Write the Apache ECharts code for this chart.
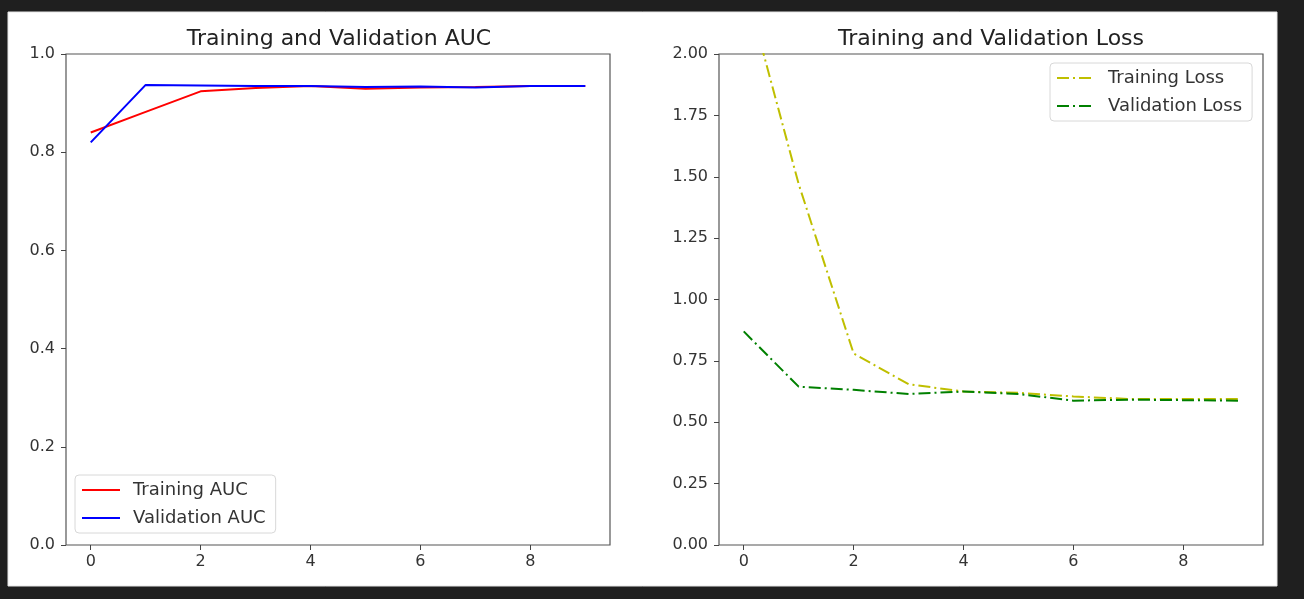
<!DOCTYPE html>
<html lang="en">
<head>
    <meta charset="UTF-8">
    <title>Training and Validation</title>
    <script src="https://cdn.jsdelivr.net/npm/echarts@6/dist/echarts.min.js"></script>
    <style>
        html, body { margin: 0; padding: 0; background: #1f1f1f; }
    </style>
</head>
<body>
<div id="main" style="width: 1304px;height:599px;"></div>

<script type="text/javascript">
    // data
    var epochs = [0, 1, 2, 3, 4, 5, 6, 7, 8, 9];
    var xTicks = [0, 2, 4, 6, 8];
    var trainAuc = [0.840, 0.882, 0.924, 0.931, 0.935, 0.929, 0.932, 0.933, 0.935, 0.935];
    var valAuc = [0.820, 0.937, 0.936, 0.935, 0.935, 0.933, 0.934, 0.932, 0.935, 0.935];
    var trainLoss = [2.30, 1.47, 0.78, 0.655, 0.625, 0.620, 0.605, 0.595, 0.595, 0.595];
    var valLoss = [0.870, 0.645, 0.632, 0.615, 0.625, 0.615, 0.588, 0.592, 0.590, 0.588];

    function pairs(ys) {
        return epochs.map(function (x, i) { return [x, ys[i]]; });
    }

    var font = 'DejaVu Sans';
    var dashDot = [12, 4, 2, 4];

    function xAxis(gi) {
        return {
            type: 'value', gridIndex: gi, min: -0.45, max: 9.45,
            splitLine: {show: false},
            axisLine: {show: false, onZero: false},
            axisTick: {show: true, length: 5, customValues: xTicks, lineStyle: {color: '#444'}},
            axisLabel: {customValues: xTicks, margin: 9, color: '#333', fontFamily: font, fontSize: 16}
        };
    }

    function yAxis(gi, max, step, digits) {
        return {
            type: 'value', gridIndex: gi, min: 0, max: max, interval: step,
            splitLine: {show: false},
            axisLine: {show: false, onZero: false},
            axisTick: {show: true, length: 5, lineStyle: {color: '#444'}},
            axisLabel: {
                margin: 11, color: '#333', fontFamily: font, fontSize: 16,
                formatter: function (v) { return v.toFixed(digits); }
            }
        };
    }

    var legendBox = {
        orient: 'vertical', itemWidth: 38, itemHeight: 14, itemGap: 10,
        padding: [6, 10, 6, 6], borderColor: '#d8d8d8', borderWidth: 1, borderRadius: 4,
        backgroundColor: 'rgba(255,255,255,0.8)',
        itemStyle: {opacity: 0},
        textStyle: {fontFamily: font, fontSize: 18, color: '#333', padding: [0, 0, 0, 8]}
    };

    var myChart = echarts.init(document.getElementById('main'));

    var option = {
        animation: false,
        backgroundColor: '#1f1f1f',
        graphic: [{
            type: 'rect', z: -10,
            shape: {x: 8, y: 12, width: 1269, height: 574},
            style: {fill: '#ffffff', stroke: '#e6e6e6', lineWidth: 1}
        }],
        title: [
            {text: 'Training and Validation AUC', left: 334, top: 23, textAlign: 'center',
                textStyle: {fontFamily: font, fontSize: 22, fontWeight: 'normal', color: '#222'}},
            {text: 'Training and Validation Loss', left: 986, top: 23, textAlign: 'center',
                textStyle: {fontFamily: font, fontSize: 22, fontWeight: 'normal', color: '#222'}}
        ],
        legend: [
            Object.assign({left: 75, top: 475, data: ['Training AUC', 'Validation AUC']}, legendBox),
            Object.assign({left: 1050, top: 63, data: ['Training Loss', 'Validation Loss']}, legendBox)
        ],
        grid: [
            {left: 66, top: 54, width: 544, height: 491, show: true, borderColor: '#555', borderWidth: 1.2},
            {left: 719, top: 54, width: 544, height: 491, show: true, borderColor: '#555', borderWidth: 1.2}
        ],
        xAxis: [xAxis(0), xAxis(1)],
        yAxis: [yAxis(0, 1, 0.2, 1), yAxis(1, 2, 0.25, 2)],
        series: [
            {name: 'Training AUC', type: 'line', xAxisIndex: 0, yAxisIndex: 0, symbol: 'none',
                color: '#ff0000', lineStyle: {width: 2}, data: pairs(trainAuc)},
            {name: 'Validation AUC', type: 'line', xAxisIndex: 0, yAxisIndex: 0, symbol: 'none',
                color: '#0000ff', lineStyle: {width: 2}, data: pairs(valAuc)},
            {name: 'Training Loss', type: 'line', xAxisIndex: 1, yAxisIndex: 1, symbol: 'none',
                color: '#bfbf00', lineStyle: {width: 2, type: dashDot}, data: pairs(trainLoss)},
            {name: 'Validation Loss', type: 'line', xAxisIndex: 1, yAxisIndex: 1, symbol: 'none',
                color: '#008000', lineStyle: {width: 2, type: dashDot}, data: pairs(valLoss)}
        ]
    };

    myChart.setOption(option);
</script>
</body>
</html>
